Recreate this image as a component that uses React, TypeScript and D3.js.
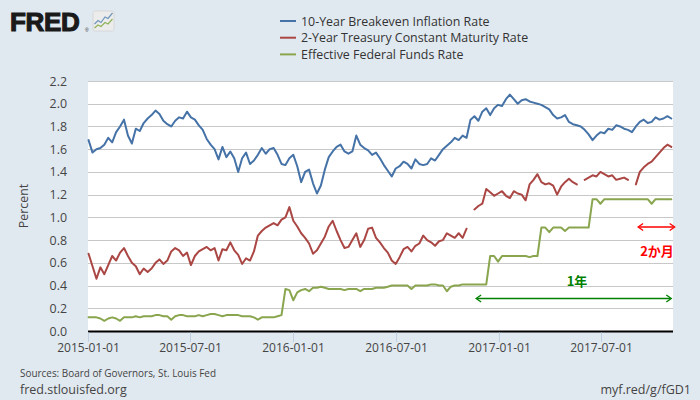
import React from "react";
import * as d3 from "d3";

// ---- Data (weekly observations starting 2015-01-02) ----
const START_DATE = "2015-01-02";
const STEP_DAYS = 7;

const breakeven10y: (number | null)[] = [
  1.68, 1.57, 1.60, 1.61, 1.64, 1.70, 1.66, 1.75, 1.80, 1.86,
  1.72, 1.65, 1.78, 1.76, 1.83, 1.87, 1.90, 1.94, 1.91, 1.85,
  1.82, 1.80, 1.85, 1.88, 1.87, 1.93, 1.88, 1.86, 1.81, 1.77,
  1.69, 1.64, 1.60, 1.51, 1.62, 1.53, 1.58, 1.52, 1.40, 1.52,
  1.57, 1.47, 1.50, 1.55, 1.61, 1.56, 1.60, 1.61, 1.55, 1.47,
  1.46, 1.52, 1.55, 1.45, 1.31, 1.40, 1.42, 1.30, 1.21, 1.28,
  1.42, 1.53, 1.58, 1.62, 1.64, 1.58, 1.56, 1.58, 1.72, 1.64,
  1.61, 1.59, 1.55, 1.57, 1.52, 1.46, 1.41, 1.36, 1.43, 1.45,
  1.49, 1.47, 1.43, 1.51, 1.47, 1.46, 1.47, 1.52, 1.50, 1.55,
  1.60, 1.63, 1.66, 1.70, 1.68, 1.72, 1.70, 1.86, 1.89, 1.85,
  1.93, 1.96, 1.90, 1.96, 1.99, 1.98, 2.04, 2.08, 2.04, 2.00,
  2.03, 2.04, 2.02, 2.01, 2.00, 1.99, 1.97, 1.95, 1.90, 1.87,
  1.88, 1.90, 1.84, 1.82, 1.81, 1.80, 1.77, 1.73, 1.68, 1.72,
  1.75, 1.74, 1.78, 1.77, 1.81, 1.80, 1.78, 1.77, 1.75, 1.80,
  1.84, 1.86, 1.83, 1.84, 1.88, 1.86, 1.87, 1.89, 1.87,
];

const treasury2y: (number | null)[] = [
  0.68, 0.57, 0.46, 0.56, 0.50, 0.58, 0.66, 0.62, 0.69, 0.73,
  0.66, 0.60, 0.57, 0.50, 0.55, 0.52, 0.55, 0.60, 0.63, 0.59,
  0.62, 0.70, 0.73, 0.71, 0.66, 0.69, 0.58, 0.66, 0.70, 0.72,
  0.74, 0.71, 0.73, 0.62, 0.72, 0.71, 0.78, 0.71, 0.67, 0.59,
  0.64, 0.62, 0.70, 0.84, 0.88, 0.91, 0.93, 0.95, 0.93, 0.98,
  1.00, 1.09, 0.97, 0.92, 0.86, 0.82, 0.77, 0.68, 0.71, 0.77,
  0.83, 0.92, 0.97, 0.88, 0.80, 0.73, 0.74, 0.80, 0.86, 0.74,
  0.80, 0.90, 0.91, 0.82, 0.78, 0.73, 0.69, 0.62, 0.59, 0.65,
  0.72, 0.74, 0.70, 0.75, 0.77, 0.84, 0.80, 0.78, 0.75, 0.79,
  0.80, 0.86, 0.84, 0.82, 0.86, 0.82, 0.90, null, 1.07, 1.10,
  1.12, 1.25, 1.22, 1.19, 1.21, 1.23, 1.19, 1.17, 1.23, 1.21,
  1.20, 1.15, 1.29, 1.33, 1.38, 1.31, 1.29, 1.30, 1.28, 1.20,
  1.27, 1.31, 1.34, 1.31, 1.29, null, 1.33, 1.35, 1.37, 1.36,
  1.40, 1.38, 1.36, 1.37, 1.33, 1.34, 1.35, 1.33, null, 1.29,
  1.40, 1.44, 1.47, 1.49, 1.53, 1.57, 1.61, 1.64, 1.62,
];

const fedFunds: (number | null)[] = [
  0.12, 0.12, 0.12, 0.11, 0.09, 0.11, 0.12, 0.11, 0.09, 0.12,
  0.12, 0.12, 0.13, 0.12, 0.13, 0.13, 0.13, 0.14, 0.14, 0.13,
  0.13, 0.10, 0.13, 0.14, 0.14, 0.13, 0.13, 0.13, 0.14, 0.13,
  0.14, 0.15, 0.15, 0.14, 0.13, 0.14, 0.14, 0.14, 0.14, 0.13,
  0.13, 0.13, 0.12, 0.10, 0.12, 0.12, 0.12, 0.12, 0.13, 0.14,
  0.37, 0.36, 0.27, 0.34, 0.36, 0.37, 0.35, 0.38, 0.38, 0.39,
  0.38, 0.37, 0.37, 0.37, 0.37, 0.36, 0.37, 0.37, 0.37, 0.35,
  0.37, 0.37, 0.37, 0.38, 0.38, 0.38, 0.39, 0.40, 0.40, 0.40,
  0.40, 0.40, 0.37, 0.40, 0.40, 0.40, 0.40, 0.41, 0.41, 0.40,
  0.40, 0.35, 0.39, 0.40, 0.40, 0.41, 0.41, 0.41, 0.41, 0.41,
  0.41, 0.41, 0.66, 0.66, 0.61, 0.66, 0.66, 0.66, 0.66, 0.66,
  0.66, 0.66, 0.65, 0.66, 0.66, 0.91, 0.91, 0.87, 0.91, 0.91,
  0.91, 0.88, 0.91, 0.91, 0.91, 0.91, 0.91, 0.91, 1.16, 1.16,
  1.12, 1.16, 1.16, 1.16, 1.16, 1.16, 1.16, 1.16, 1.16, 1.16,
  1.16, 1.16, 1.16, 1.12, 1.16, 1.16, 1.16, 1.16, 1.16,
];

const seriesNames = [
  "10-Year Breakeven Inflation Rate",
  "2-Year Treasury Constant Maturity Rate",
  "Effective Federal Funds Rate",
];
const seriesColors = ["#4572a7", "#aa4643", "#89a54e"];

const xTickLabels = ["2015-01-01", "2015-07-01", "2016-01-01", "2016-07-01", "2017-01-01", "2017-07-01"];
const yTickValues = [0, 0.2, 0.4, 0.6, 0.8, 1.0, 1.2, 1.4, 1.6, 1.8, 2.0, 2.2];

const X_DOMAIN = ["2015-01-01", "2017-11-06"];

// annotation spans
const spanOneYear = ["2016-11-21", "2017-11-03"];
const spanTwoMonths = ["2017-09-05", "2017-11-09"];

const parse = (s: string) => new Date(s + "T00:00:00Z");

export default function App() {
  const W = 700, H = 400;
  const left = 88, right = 673, top = 81, bottom = 331;

  const x = d3.scaleUtc().domain(X_DOMAIN.map(parse)).range([left, right]);
  const y = d3.scaleLinear().domain([0, 2.2]).range([bottom, top]);

  const start = parse(START_DATE);
  const dateAt = (i: number) => d3.utcDay.offset(start, i * STEP_DAYS);

  const all = [breakeven10y, treasury2y, fedFunds];
  const line = d3
    .line<number | null>()
    .defined((d) => d != null)
    .x((_, i) => x(dateAt(i)))
    .y((d) => y(d as number));

  const font = "'Open Sans', 'DejaVu Sans', sans-serif";
  const cjk = "'Noto Sans CJK JP', sans-serif";

  const arrow = (x1: number, x2: number, yy: number, color: string) => {
    const h = 3.5, l = 5;
    return (
      <g stroke={color} strokeWidth={1.3} fill="none">
        <line x1={x1 + 1} x2={x2 - 1} y1={yy} y2={yy} />
        <path d={`M${x1 + l},${yy - h} L${x1},${yy} L${x1 + l},${yy + h}`} />
        <path d={`M${x2 - l},${yy - h} L${x2},${yy} L${x2 - l},${yy + h}`} />
      </g>
    );
  };

  return (
    <svg width={W} height={H} style={{ display: "block", position: "absolute", left: 0, top: 0 }} xmlns="http://www.w3.org/2000/svg">
      <rect x={0} y={0} width={W} height={H} fill="#e1e9f0" />

      {/* Logo */}
      <text x={10} y={31} fontFamily="'Liberation Sans', Arial, sans-serif" fontWeight="bold" fontSize={26} fill="#1a1a1a" stroke="#1a1a1a" strokeWidth={1.1} letterSpacing={-0.3}>
        FRED
      </text>
      <text x={85} y={32} fontFamily="'Liberation Sans', Arial, sans-serif" fontSize={5} fill="#333">®</text>
      <rect x={93} y={11} width={21} height={20} rx={2} fill="#ececec" stroke="#cfcfcf" strokeWidth={0.6} />
      <polyline points="94.5,24 98,20.5 101,22.5 105,17 108,18.5 112.5,13" fill="none" stroke="#6f95bd" strokeWidth={1.2} />
      <polyline points="94.5,28 98,25 101,26.5 105,22.5 108,24 112.5,19" fill="none" stroke="#8fb35a" strokeWidth={1.2} />

      {/* Legend */}
      {seriesNames.map((name, i) => (
        <g key={name}>
          <line x1={280} x2={296} y1={21 + i * 16.7} y2={21 + i * 16.7} stroke={seriesColors[i]} strokeWidth={2} />
          <text x={301} y={25.5 + i * 16.7} fontFamily={font} fontSize={12.4} fill="#333">
            {name}
          </text>
        </g>
      ))}

      {/* Plot area */}
      <rect x={left} y={top} width={right - left} height={bottom - top} fill="#ffffff" />
      {yTickValues.map((v) => (
        <line key={v} x1={left} x2={right} y1={Math.round(y(v)) + 0.5} y2={Math.round(y(v)) + 0.5} stroke="#c8c8c8" strokeWidth={1.2} />
      ))}
      {yTickValues.map((v) => (
        <text key={"l" + v} x={67} y={y(v) + 4.5} textAnchor="end" fontFamily={font} fontSize={12.4} fill="#444">
          {v.toFixed(1)}
        </text>
      ))}
      <text transform={`translate(28,${(top + bottom) / 2}) rotate(-90)`} textAnchor="middle" fontFamily={font} fontSize={12.4} fill="#444">
        Percent
      </text>

      {/* Series */}
      {all.map((s, i) => (
        <path key={i} d={line(s) || ""} fill="none" stroke={seriesColors[i]} strokeWidth={2} strokeLinejoin="round" strokeLinecap="round" />
      ))}

      {/* X axis */}
      <line x1={left} x2={right} y1={bottom + 0.5} y2={bottom + 0.5} stroke="#000" strokeWidth={2} />
      {xTickLabels.map((t) => {
        const xx = Math.round(x(parse(t))) + 0.5;
        return (
          <g key={t}>
            <line x1={xx} x2={xx} y1={bottom + 1.5} y2={bottom + 11} stroke="#c0d0e0" strokeWidth={1} />
            <text x={xx} y={352} textAnchor="middle" fontFamily={font} fontSize={12} fill="#444">
              {t}
            </text>
          </g>
        );
      })}

      {/* Annotations */}
      {arrow(x(parse(spanTwoMonths[0])), x(parse(spanTwoMonths[1])), 227, "#ff0000")}
      <text x={657} y={256} textAnchor="middle" fontFamily={cjk} fontWeight="bold" fontSize={13} fill="#ff0000">
        2か月
      </text>
      {arrow(x(parse(spanOneYear[0])), x(parse(spanOneYear[1])), 298.5, "#008000")}
      <text x={577} y={286} textAnchor="middle" fontFamily={cjk} fontWeight="bold" fontSize={13} fill="#008000">
        1年
      </text>

      {/* Footer */}
      <text x={20} y={377} fontFamily={font} fontSize={11} fill="#444" textLength={196} lengthAdjust="spacingAndGlyphs">
        Sources: Board of Governors, St. Louis Fed
      </text>
      <text x={20} y={394} fontFamily={font} fontSize={12.5} fill="#444">
        fred.stlouisfed.org
      </text>
      <text x={691} y={394} textAnchor="end" fontFamily={font} fontSize={12.5} fill="#444">
        myf.red/g/fGD1
      </text>
    </svg>
  );
}
